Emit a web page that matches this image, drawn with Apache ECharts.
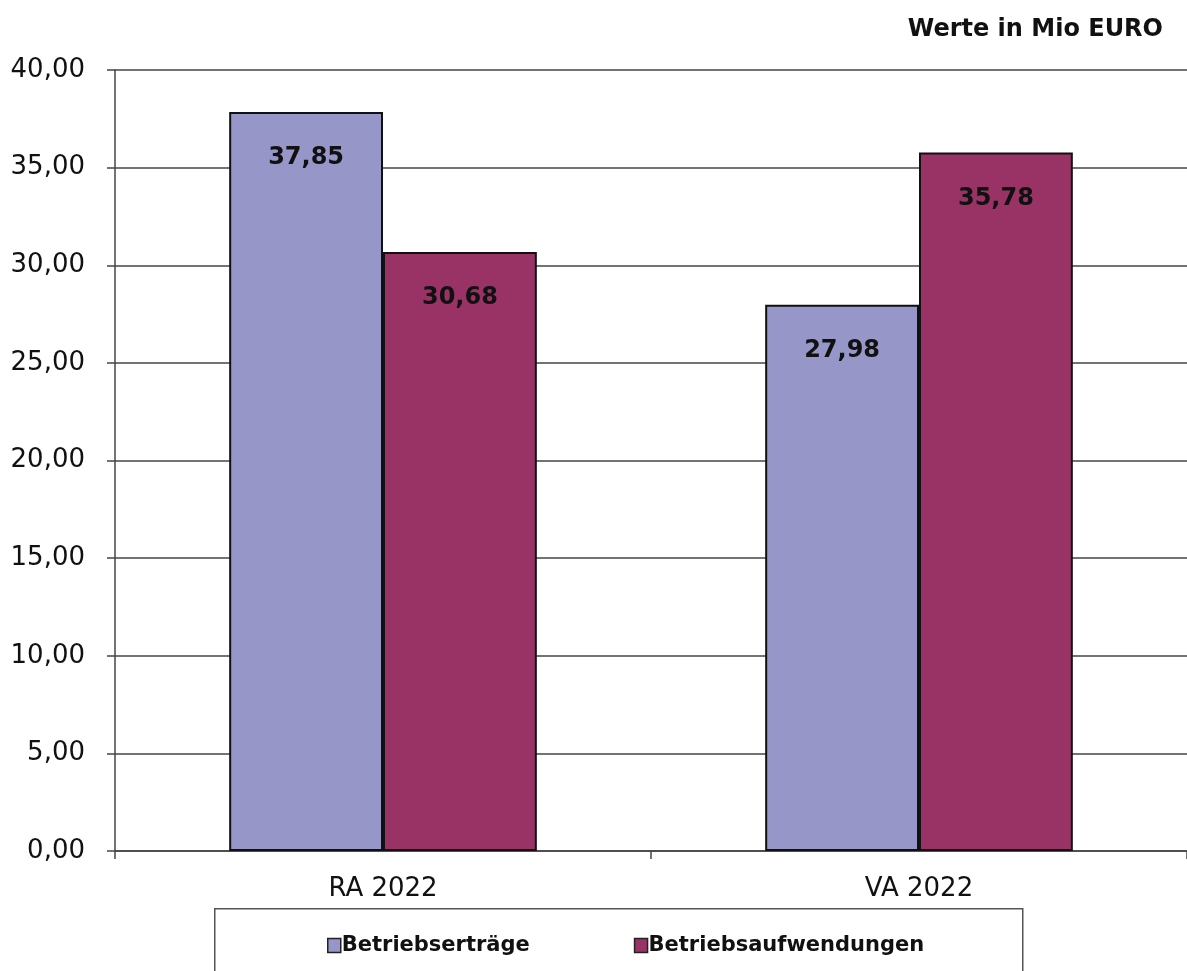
<!DOCTYPE html>
<html>
<head>
<meta charset="utf-8">
<script src="https://cdn.jsdelivr.net/npm/echarts@6/dist/echarts.min.js"></script>
<style>html,body{margin:0;padding:0;background:#fff;}#c{width:1187px;height:971px;}</style>
</head>
<body>
<div id="c"></div>
<script>
const categories = ['RA 2022', 'VA 2022'];
const seriesNames = ['Betriebserträge', 'Betriebsaufwendungen'];
const ertraege = [37.85, 27.98];
const aufwendungen = [30.68, 35.78];
const unitLabel = 'Werte in Mio EURO';

const FONT = 'DejaVu Sans';
const fmt = v => v.toFixed(2).replace('.', ',');
const chart = echarts.init(document.getElementById('c'));
const labelOpt = {
  show: true, position: 'insideTop', distance: 34,
  formatter: p => fmt(p.value),
  fontFamily: FONT, fontSize: 24, fontWeight: 'bold', color: '#111'
};
chart.setOption({
  backgroundColor: '#fff',
  animation: false,
  title: {
    text: unitLabel, right: 19, top: 13,
    textStyle: { fontFamily: FONT, fontSize: 24, fontWeight: 'bold', color: '#111' }
  },
  graphic: [{
    type: 'rect', left: 214, top: 908,
    shape: { width: 808, height: 80 },
    style: { fill: '#fff', stroke: '#555', lineWidth: 1.5 },
    z: 0
  }],
  legend: {
    top: 930, left: 322, itemGap: 104,
    itemWidth: 13, itemHeight: 14,
    icon: 'rect',
    itemStyle: { borderColor: '#222', borderWidth: 1.5 },
    textStyle: { fontFamily: FONT, fontSize: 21, fontWeight: 'bold', color: '#111', padding: [0, 0, 0, -4] },
    data: seriesNames, z: 5
  },
  grid: { left: 115, right: -6, top: 70, bottom: 120, containLabel: false },
  xAxis: {
    type: 'category', data: categories,
    axisLine: { lineStyle: { color: '#444', width: 1.5 } },
    axisTick: { show: true, length: 8, lineStyle: { color: '#444', width: 1.5 } },
    axisLabel: { margin: 25, fontFamily: FONT, fontSize: 26, color: '#111' }
  },
  yAxis: {
    type: 'value', min: 0, max: 40, interval: 5,
    axisLine: { show: true, lineStyle: { color: '#444', width: 1.5 } },
    axisTick: { show: true, length: 8, lineStyle: { color: '#444', width: 1.5 } },
    axisLabel: { margin: 30, formatter: v => fmt(v), fontFamily: FONT, fontSize: 26, color: '#111' },
    splitLine: { lineStyle: { color: '#444', width: 1.5 } }
  },
  series: [
    {
      name: seriesNames[0], type: 'bar', data: ertraege,
      barGap: '0%', barCategoryGap: '42.6%',
      itemStyle: { color: '#9696C8', borderColor: '#111', borderWidth: 2 },
      label: labelOpt
    },
    {
      name: seriesNames[1], type: 'bar', data: aufwendungen,
      barGap: '0%', barCategoryGap: '42.6%',
      itemStyle: { color: '#993366', borderColor: '#111', borderWidth: 2 },
      label: labelOpt
    }
  ]
});
</script>
</body>
</html>
